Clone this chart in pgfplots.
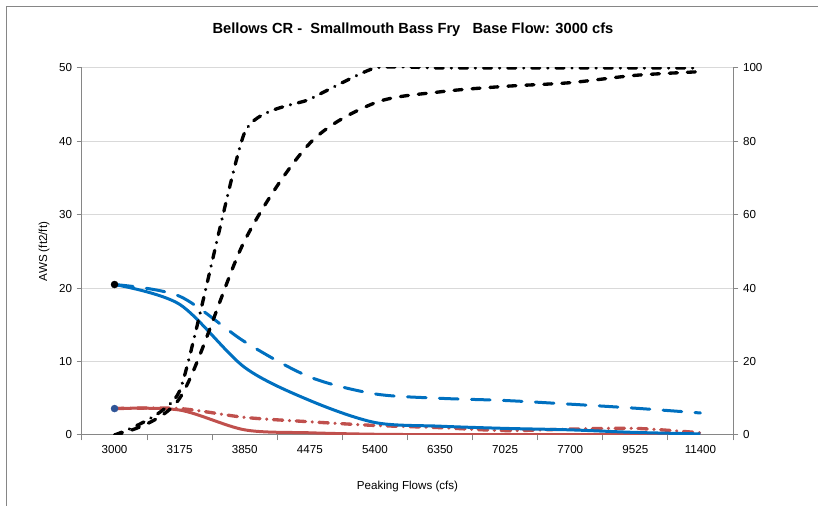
\documentclass[border=0pt]{standalone}
\usepackage{fontspec}
\setmainfont{Liberation Sans}
\usepackage{pgfplots}
\usepackage{pgfplotstable}
\pgfplotsset{compat=1.18}

\definecolor{awsblue}{HTML}{0070C0}
\definecolor{awsred}{HTML}{C0504D}
\definecolor{dotblue}{HTML}{2F5597}
\definecolor{axgray}{HTML}{868686}
\definecolor{gridgray}{HTML}{D9D9D9}

% AWS (ft2/ft), left axis; categories at 0..9
\pgfplotstableread{
x bsolid bdash rsolid rdashdot
0 20.5 20.5 3.6  3.6
1 17.8 18.9 3.4  3.6
2 9.2  12.7 0.7  2.4
3 4.7  7.9  0.3  1.8
4 1.7  5.6  0.1  1.3
5 1.2  5.0  0.05 1.0
6 0.9  4.7  0.05 0.6
7 0.7  4.2  0.05 0.8
8 0.35 3.65 0.05 0.9
9 0.15 3.0  0.05 0.3
}\awsdata

% % Loss AWS, right axis
\pgfplotstableread{
x kdash kdashdot
0 0    0
1 10   12
2 53   82.5
3 79.5 91.5
4 90.5 100
5 93.5 100
6 95   100
7 96   100
8 98   100
9 99   100
}\lossdata

\pgfplotsset{
  chartbase/.style={
    scale only axis, width=488.25pt, height=275.25pt,
    xmin=-0.5, xmax=9.5,
    tick label style={font=\fontsize{8.7}{10}\selectfont},
    /pgf/number format/assume math mode=true,
    axis line style={axgray, line width=0.75pt},
    tick style={axgray, line width=0.75pt},
    tick align=outside,
    major tick length=4pt, minor tick length=4pt,
  }
}

\begin{document}
\begin{tikzpicture}
\path[use as bounding box] (-61.5pt,-53.25pt) rectangle (552pt,326.25pt);
\draw[axgray, line width=0.75pt] (-56.25pt,-60pt) -- (-56.25pt,321pt) -- (560pt,321pt);

\begin{axis}[chartbase,
  ymin=0, ymax=50, ytick={0,10,...,50},
  axis x line*=bottom, axis y line*=left,
  xtick={0,...,9},
  xticklabels={3000,3175,3850,4475,5400,6350,7025,7700,9525,11400},
  major x tick style={draw=none},
  minor xtick={-0.5,0.5,...,9.5},
  ymajorgrids, grid style={gridgray, line width=0.75pt},
  xlabel={Peaking Flows (cfs)}, ylabel={AWS (ft2/ft)},
  label style={font=\fontsize{8.7}{10}\selectfont},
  xlabel style={at={(axis description cs:0.5,-0.139)}, anchor=center},
  ylabel style={at={(axis description cs:-0.058,0.5)}, anchor=center},
]
\addplot[awsred, line width=2.25pt, smooth] table[x=x, y=rsolid]{\awsdata};
\addplot[awsred, line width=2.5pt, smooth, line cap=round,
  dash pattern=on 7pt off 5pt on 0.1pt off 5pt] table[x=x, y=rdashdot]{\awsdata};
\addplot[awsblue, line width=2.25pt, smooth, line cap=round,
  dash pattern=on 14pt off 10pt] table[x=x, y=bdash]{\awsdata};
\addplot[awsblue, line width=2.25pt, smooth] table[x=x, y=bsolid]{\awsdata};
\addplot[only marks, mark=*, mark size=2.6pt, black] coordinates {(0,20.5)};
\addplot[only marks, mark=*, mark size=2.6pt, dotblue] coordinates {(0,3.6)};
\end{axis}

\begin{axis}[chartbase,
  ymin=0, ymax=100, ytick={0,20,...,100},
  axis y line*=right, axis x line=none,
]
\addplot[black, line width=2.5pt, smooth, line cap=round,
  dash pattern=on 6pt off 7.5pt] table[x=x, y=kdash]{\lossdata};
\addplot[black, line width=2.5pt, smooth, tension=0.3, line cap=round,
  dash pattern=on 6pt off 6pt on 0.1pt off 6pt] table[x=x, y=kdashdot]{\lossdata};
\node[rotate=90, font=\fontsize{8.7}{10}\selectfont]
  at (axis description cs:1.066,0.5) {\% Loss AWS};
\end{axis}

\node[font=\bfseries\fontsize{11}{13}\selectfont] at (248.25pt,303.75pt)
  {Bellows CR -\ \ Smallmouth Bass Fry\ \ \ Base Flow: 3000 cfs};
\end{tikzpicture}
\end{document}
